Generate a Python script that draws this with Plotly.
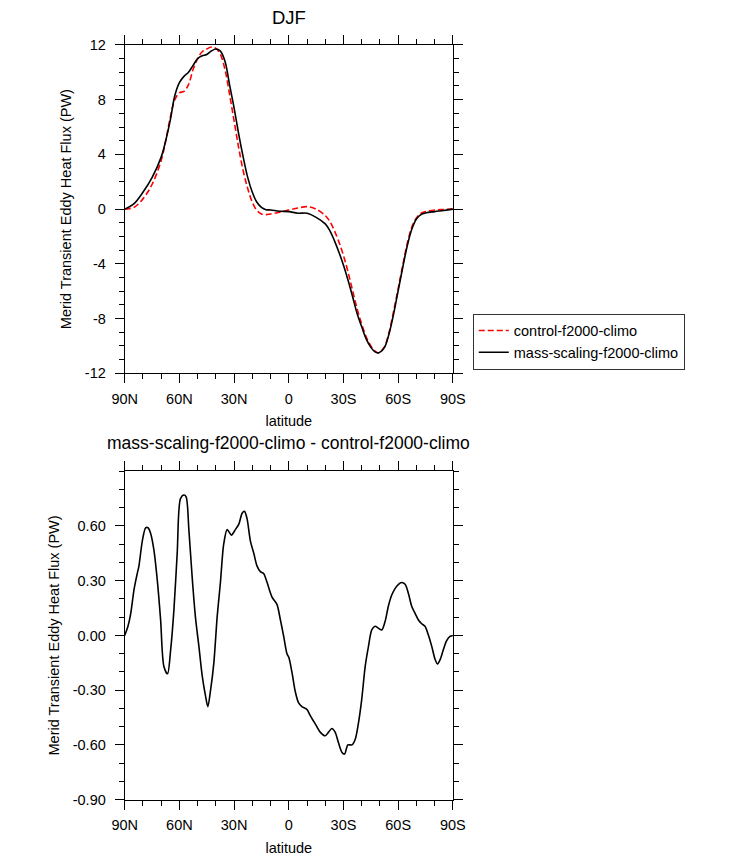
import plotly.graph_objects as go

# DJF meridional transient eddy heat flux (PW), latitude 90N -> 90S
lat = [90, 85, 80, 75, 70, 67.5, 65, 62.5, 60, 57.5, 55, 52.5, 50, 47.5, 45,
       42.5, 40, 37.5, 35, 32.5, 30, 27.5, 25, 22.5, 20, 17.5, 15, 12.5, 10,
       5, 0, -5, -10, -15, -20, -22.5, -25, -27.5, -30, -32.5, -35, -37.5,
       -40, -42.5, -45, -47.5, -49, -50, -52.5, -55, -57.5, -60, -62.5, -65,
       -67.5, -70, -72.5, -75, -80, -85, -90]

control = [0, 0.13, 0.75, 1.8, 3.55, 5.0, 6.7, 8.0, 8.5, 8.6, 9.1, 10.2, 11.0,
           11.5, 11.7, 11.85, 11.75, 11.3, 10.2, 8.4, 6.45, 4.5, 2.8, 1.5, 0.5,
           -0.1, -0.35, -0.4, -0.35, -0.23, -0.07, 0.08, 0.18, 0.0, -0.47, -0.9,
           -1.57, -2.4, -3.4, -4.6, -5.95, -7.3, -8.4, -9.35, -10.0, -10.4,
           -10.5, -10.45, -10.05, -9.0, -7.45, -5.8, -4.1, -2.5, -1.3, -0.65,
           -0.3, -0.18, -0.06, -0.03, 0]

mass_scaling = [0, 0.38, 1.23, 2.3, 3.8, 5.0, 6.5, 8.3, 9.25, 9.7, 10.0, 10.5,
                11.0, 11.2, 11.3, 11.55, 11.7, 11.55, 10.8, 9.1, 7.4, 5.5, 3.8,
                2.3, 1.23, 0.5, 0.13, -0.04, -0.06, -0.15, -0.18, -0.3, -0.3,
                -0.6, -1.08, -1.57, -2.3, -3.15, -4.1, -5.2, -6.4, -7.65, -8.6,
                -9.5, -10.1, -10.45, -10.5, -10.45, -10.1, -9.1, -7.65, -5.95,
                -4.25, -2.66, -1.45, -0.72, -0.4, -0.28, -0.18, -0.1, 0]

# difference: mass-scaling minus control
lat_diff = [90, 88.2, 86.7, 84.9, 83.1, 82.2, 80.3, 78.5, 77.2, 75.8, 74, 72.1,
            70.3, 68.5, 66.5, 64.8, 63, 61.2, 59.4, 57.5, 56.3, 54.8, 53, 51.2,
            49.3, 47.5, 45.7, 44.4, 42.9, 41.1, 39.3, 37.5, 35.7, 33.8, 31.5,
            29.3, 27.4, 25.6, 24.3, 22.9, 21.1, 19.2, 17.4, 15.6, 13.8, 11.9,
            9.2, 6.5, 4.6, 2.8, 1.0, 0, -1.7, -3.6, -5.4, -7.2, -9.9, -11.8,
            -13.6, -15.4, -17.2, -20, -21.8, -23.6, -25.4, -27.3, -29.1, -30.6,
            -32.4, -34.6, -36.4, -38.2, -40, -41.9, -43.7, -45.5, -47.3, -49.1,
            -51, -52.8, -54.6, -56.4, -59.2, -61.9, -63.8, -65.6, -67.4, -69.3,
            -71.1, -72.9, -74.7, -76.5, -78.4, -80.2, -81.6, -83.1, -84.7,
            -86.5, -88.4, -90]

diff = [0, 0.05, 0.12, 0.25, 0.34, 0.38, 0.52, 0.59, 0.59, 0.56, 0.47, 0.30,
        0.085, -0.17, -0.21, -0.08, 0.14, 0.45, 0.75, 0.77, 0.76, 0.58, 0.32,
        0.10, -0.06, -0.22, -0.33, -0.39, -0.30, -0.15, 0.10, 0.29, 0.50, 0.58,
        0.55, 0.58, 0.61, 0.67, 0.68, 0.64, 0.52, 0.45, 0.38, 0.35, 0.34, 0.29,
        0.21, 0.17, 0.085, -0.005, -0.1, -0.12, -0.2, -0.31, -0.37, -0.39,
        -0.405, -0.44, -0.47, -0.5, -0.53, -0.55, -0.53, -0.51, -0.53, -0.59,
        -0.64, -0.65, -0.6, -0.6, -0.57, -0.48, -0.35, -0.17, -0.06, 0.03,
        0.05, 0.04, 0.03, 0.076, 0.16, 0.22, 0.27, 0.29, 0.28, 0.23, 0.16,
        0.12, 0.085, 0.064, 0.05, 0.004, -0.06, -0.13, -0.156, -0.13, -0.08,
        -0.03, -0.005, 0]

lat_ticks = [90, 60, 30, 0, -30, -60, -90]
lat_labels = ["90N", "60N", "30N", "0", "30S", "60S", "90S"]
top_ticks = [12, 8, 4, 0, -4, -8, -12]
top_labels = ["12", "8", "4", "0", "-4", "-8", "-12"]
bot_ticks = [0.6, 0.3, 0, -0.3, -0.6, -0.9]
bot_labels = ["0.60", "0.30", "0.00", "-0.30", "-0.60", "-0.90"]

FONT = "Liberation Sans, Arial, Helvetica, sans-serif"
W, H = 732, 859

fig = go.Figure()
fig.add_trace(go.Scatter(x=lat, y=control, mode="lines", name="control-f2000-climo",
                         line=dict(color="red", width=1.6, dash="6px,3px", shape="spline"),
                         xaxis="x", yaxis="y"))
fig.add_trace(go.Scatter(x=lat, y=mass_scaling, mode="lines", name="mass-scaling-f2000-climo",
                         line=dict(color="black", width=1.6, shape="spline"),
                         xaxis="x", yaxis="y"))
fig.add_trace(go.Scatter(x=lat_diff, y=diff, mode="lines", showlegend=False,
                         line=dict(color="black", width=1.6, shape="spline", smoothing=0.8),
                         xaxis="x2", yaxis="y2"))

axis_common = dict(showline=True, linecolor="black", linewidth=1, mirror="allticks",
                   ticks="outside", ticklen=9, tickwidth=1, tickcolor="black",
                   showgrid=False, zeroline=False,
                   tickfont=dict(family=FONT, size=14.5, color="black"))

xcommon = dict(axis_common, range=[90, -90], tickmode="array", tickvals=lat_ticks,
               ticktext=lat_labels, ticklabelstandoff=3,
               minor=dict(ticks="outside", ticklen=5, dtick=10, tick0=0,
                          tickcolor="black", showgrid=False),
               title=dict(text="latitude", font=dict(family=FONT, size=14.5, color="black"),
                          standoff=10))

ytitle = dict(text="Merid Transient Eddy Heat Flux (PW)",
              font=dict(family=FONT, size=14.5, color="black"))

xdom = [115.8 / W, 456.1 / W]

fig.update_layout(
    width=W, height=H,
    margin=dict(l=0, r=0, t=0, b=0),
    paper_bgcolor="white", plot_bgcolor="white",
    font=dict(family=FONT, size=14, color="black"),
    xaxis=dict(xcommon, domain=xdom, anchor="y"),
    yaxis=dict(axis_common, domain=[1 - 372.3 / H, 1 - 37.6 / H], anchor="x",
               range=[-12, 12], tickmode="array", tickvals=top_ticks, ticktext=top_labels,
               ticklabelstandoff=6,
               minor=dict(ticks="outside", ticklen=5, dtick=1, tick0=0,
                          tickcolor="black", showgrid=False),
               title=dict(ytitle, standoff=9)),
    xaxis2=dict(xcommon, domain=xdom, anchor="y2"),
    yaxis2=dict(axis_common, domain=[1 - 806.7 / H, 1 - 472.0 / H], anchor="x2",
                range=[-0.9, 0.9], tickmode="array", tickvals=bot_ticks, ticktext=bot_labels,
                ticklabelstandoff=6,
                minor=dict(ticks="outside", ticklen=5, dtick=0.1, tick0=0,
                           tickcolor="black", showgrid=False),
                title=dict(ytitle, standoff=9)),
    legend=dict(x=476.7 / W, y=1 - 311.3 / H, xanchor="left", yanchor="top",
                bordercolor="#333", borderwidth=1, bgcolor="white",
                font=dict(family=FONT, size=14.5, color="black"),
                tracegroupgap=0),
    showlegend=True,
    annotations=[
        dict(text="DJF", x=286 / W, y=1 - 9.7 / H, xref="paper", yref="paper",
             xanchor="center", yanchor="middle",
             showarrow=False, font=dict(family=FONT, size=18.5, color="black")),
        dict(text="mass-scaling-f2000-climo - control-f2000-climo", x=286 / W,
             y=1 - 443.5 / H, xref="paper", yref="paper", showarrow=False,
             xanchor="center", yanchor="middle",
             font=dict(family=FONT, size=17.5, color="black")),
    ],
)

fig.write_html("out.html", config={"displayModeBar": False},
               post_script="document.body.style.margin='0';"
                           "document.body.style.overflow='hidden';")
